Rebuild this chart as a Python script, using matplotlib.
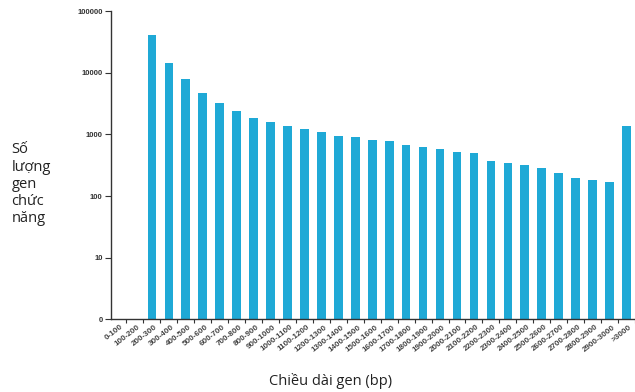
import numpy as np
import matplotlib.pyplot as plt

# ===== DATA =====

categories = ['0-100', '100-200', '200-300', '300-400', '400-500', '500-600',
              '600-700', '700-800', '800-900', '900-1000', '1000-1100',
              '1100-1200', '1200-1300', '1300-1400', '1400-1500', '1500-1600',
              '1600-1700', '1700-1800', '1800-1900', '1900-2000', '2000-2100',
              '2100-2200', '2200-2300', '2300-2400', '2400-2500', '2500-2600',
              '2600-2700', '2700-2800', '2800-2900', '2900-3000', '>3000']

gene_counts = [0, 0, 41800, 14600, 7850, 4650, 3200, 2370, 1840, 1590, 1390,
               1220, 1090, 955, 905, 800, 780, 680, 615, 585, 525, 497, 373,
               341, 321, 283, 235, 198, 185, 172, 1385]

ytick_vals   = [1, 10, 100, 1000, 10000, 100000]
ytick_labels = ['0', '10', '100', '1000', '10000', '100000']

bar_color  = '#1FA9D6'
axis_color = '#333333'

# ===== PLOT =====

fig = plt.figure(figsize=(6.35, 3.92), dpi=100)
ax = fig.add_axes([0.175, 0.1855, 0.825, 0.786])

x = np.arange(len(categories))
heights = [v if v > 0 else np.nan for v in gene_counts]
ax.bar(x, heights, width=0.51, color=bar_color, bottom=0)

ax.set_yscale('log')
ax.set_ylim(1, 100000)
ax.set_xlim(-0.405, 30.36)

ax.set_yticks(ytick_vals)
ax.set_yticklabels(ytick_labels, fontsize=5.5, fontweight='bold',
                   color=axis_color, family='Liberation Sans')
ax.yaxis.set_minor_locator(plt.NullLocator())
ax.tick_params(axis='y', length=4, width=0.8, color=axis_color, pad=2)

# category labels under bars, tick marks on category boundaries
ax.set_xticks(x + 0.5)
ax.set_xticklabels([])
ax.tick_params(axis='x', length=3, width=0.8, color=axis_color)
for xi, lab in zip(x, categories):
    ax.text(xi + 0.15, -0.014, lab, transform=ax.get_xaxis_transform(),
            rotation=38, rotation_mode='anchor', ha='right', va='top',
            fontsize=5.8, fontweight='bold', color='#444444',
            family='Liberation Sans')

for side in ['top', 'right']:
    ax.spines[side].set_visible(False)
for side in ['left', 'bottom']:
    ax.spines[side].set_color(axis_color)
    ax.spines[side].set_linewidth(1.0)

fig.text(0.018, 0.53, 'Số\nlượng\ngen\nchức\nnăng', ha='left', va='center',
         fontsize=10.5, family='Open Sans', color='#222222', linespacing=1.2)
fig.text(0.52, 0.028, 'Chiều dài gen (bp)', ha='center', va='center',
         fontsize=10.5, family='Open Sans', color='#222222')

plt.savefig('out.png', dpi=100)
